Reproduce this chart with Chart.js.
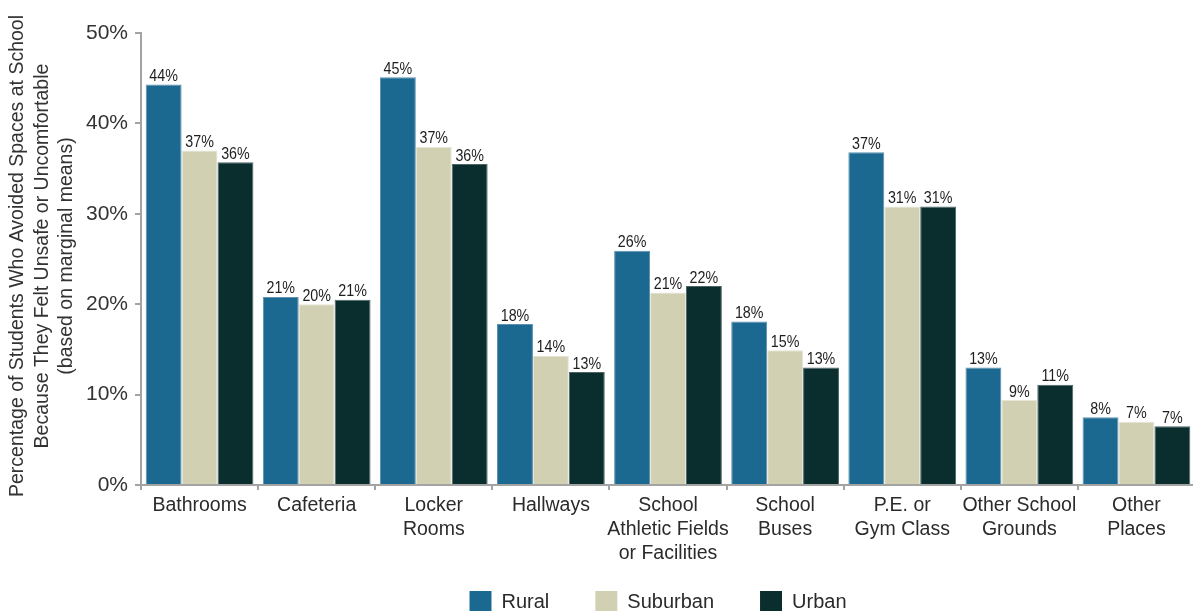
<!DOCTYPE html>
<html>
<head>
<meta charset="utf-8">
<script src="https://cdn.jsdelivr.net/npm/chart.js@4.4.1/dist/chart.umd.min.js"></script>
<style>
    html, body { margin: 0; padding: 0; background: #fff; overflow: hidden; }
    #wrap { position: relative; width: 1195px; height: 623px; }
</style>
</head>
<body>
<div id="wrap"><canvas id="chart"></canvas></div>
<script>
// --- Data ---
const categories = [
    'Bathrooms',
    'Cafeteria',
    ['Locker', 'Rooms'],
    'Hallways',
    ['School', 'Athletic Fields', 'or Facilities'],
    ['School', 'Buses'],
    ['P.E. or', 'Gym Class'],
    ['Other School', 'Grounds'],
    ['Other', 'Places']
];
const rural    = [44.3, 20.8, 45.1, 17.8, 25.9, 18.1, 36.8, 13.0, 7.5];
const suburban = [37.0, 20.0, 37.4, 14.3, 21.3, 14.9, 30.8, 9.4, 7.0];
const urban    = [35.7, 20.5, 35.5, 12.5, 22.0, 13.0, 30.8, 11.1, 6.5];
const seriesNames = ['Rural', 'Suburban', 'Urban'];
const yTicks = [0, 10, 20, 30, 40, 50];
const yTitleLines = [
    'Percentage of Students Who Avoided Spaces at School',
    'Because They Felt Unsafe or Uncomfortable',
    '(based on marginal means)'
];

// --- Style ---
const fillColors   = ['#1b6891', '#d1d0b3', '#0a2e2e'];
const borderColors = ['#5c8fb0', '#e6e5d6', '#4e6565'];
const axisGray = '#a3a3a3';
const textColor = '#2b2b2b';
const FONT = "'Liberation Sans', Arial, sans-serif";

// Value labels above each bar (condensed look)
const valueLabels = {
    id: 'valueLabels',
    afterDatasetsDraw(chart) {
        const ctx = chart.ctx;
        ctx.save();
        ctx.font = '17px ' + FONT;
        ctx.fillStyle = '#1e1e1e';
        ctx.textAlign = 'center';
        ctx.textBaseline = 'alphabetic';
        chart.data.datasets.forEach((ds, i) => {
            chart.getDatasetMeta(i).data.forEach((bar, j) => {
                const text = Math.round(ds.data[j]) + '%';
                ctx.save();
                ctx.translate(bar.x, bar.y - 3.5);
                ctx.scale(0.84, 1);
                ctx.fillText(text, 0, 0);
                ctx.restore();
            });
        });
        ctx.restore();
    }
};

// Three-line rotated y axis title
const yTitle = {
    id: 'yTitle',
    afterDraw(chart) {
        const ctx = chart.ctx;
        ctx.save();
        ctx.font = '19.5px ' + FONT;
        ctx.fillStyle = '#333';
        ctx.textAlign = 'center';
        ctx.textBaseline = 'middle';
        ctx.translate(18, 256);
        ctx.rotate(-Math.PI / 2);
        yTitleLines.forEach((line, i) => {
            ctx.fillText(line, 0, i * 24.5);
        });
        ctx.restore();
    }
};

const datasets = [rural, suburban, urban].map((vals, i) => ({
    label: seriesNames[i],
    data: vals,
    backgroundColor: fillColors[i],
    borderColor: borderColors[i],
    borderWidth: 1,
    categoryPercentage: 0.92,
    barPercentage: 1
}));

new Chart(document.getElementById('chart'), {
    type: 'bar',
    data: { labels: categories, datasets: datasets },
    plugins: [valueLabels, yTitle],
    options: {
        responsive: true,
        maintainAspectRatio: false,
        animation: false,
        layout: { padding: { top: 33, right: 0, bottom: 0, left: 0 } },
        plugins: {
            tooltip: { enabled: false },
            legend: {
                position: 'bottom',
                fullSize: false,
                labels: {
                    boxWidth: 22,
                    boxHeight: 22,
                    padding: 26,
                    color: textColor,
                    font: { family: FONT, size: 20 },
                    // extra gap after each name (legend padding is kept small vertically)
                    generateLabels(chart) {
                        const items = Chart.defaults.plugins.legend.labels.generateLabels(chart);
                        items.forEach(it => {
                            it.text = it.text + '\u2003';
                            it.lineWidth = 0;
                        });
                        return items;
                    }
                }
            }
        },
        scales: {
            x: {
                afterFit(scale) { scale.height = 80; },
                grid: {
                    offset: true,
                    drawOnChartArea: false,
                    tickLength: 5,
                    color: axisGray,
                    lineWidth: 2
                },
                border: { color: axisGray, width: 2 },
                ticks: {
                    autoSkip: false,
                    maxRotation: 0,
                    minRotation: 0,
                    padding: 4,
                    color: textColor,
                    font: { family: FONT, size: 19.5, lineHeight: 1.23 }
                }
            },
            y: {
                min: 0,
                max: 50,
                afterFit(scale) { scale.width = 141; },
                afterBuildTicks(scale) { scale.ticks = yTicks.map(v => ({ value: v })); },
                grid: {
                    drawOnChartArea: false,
                    tickLength: 6,
                    color: axisGray,
                    lineWidth: 2
                },
                border: { color: axisGray, width: 2 },
                ticks: {
                    padding: 7,
                    color: '#333',
                    font: { family: FONT, size: 21 },
                    callback: v => v + '%'
                }
            }
        }
    }
});
</script>
</body>
</html>
